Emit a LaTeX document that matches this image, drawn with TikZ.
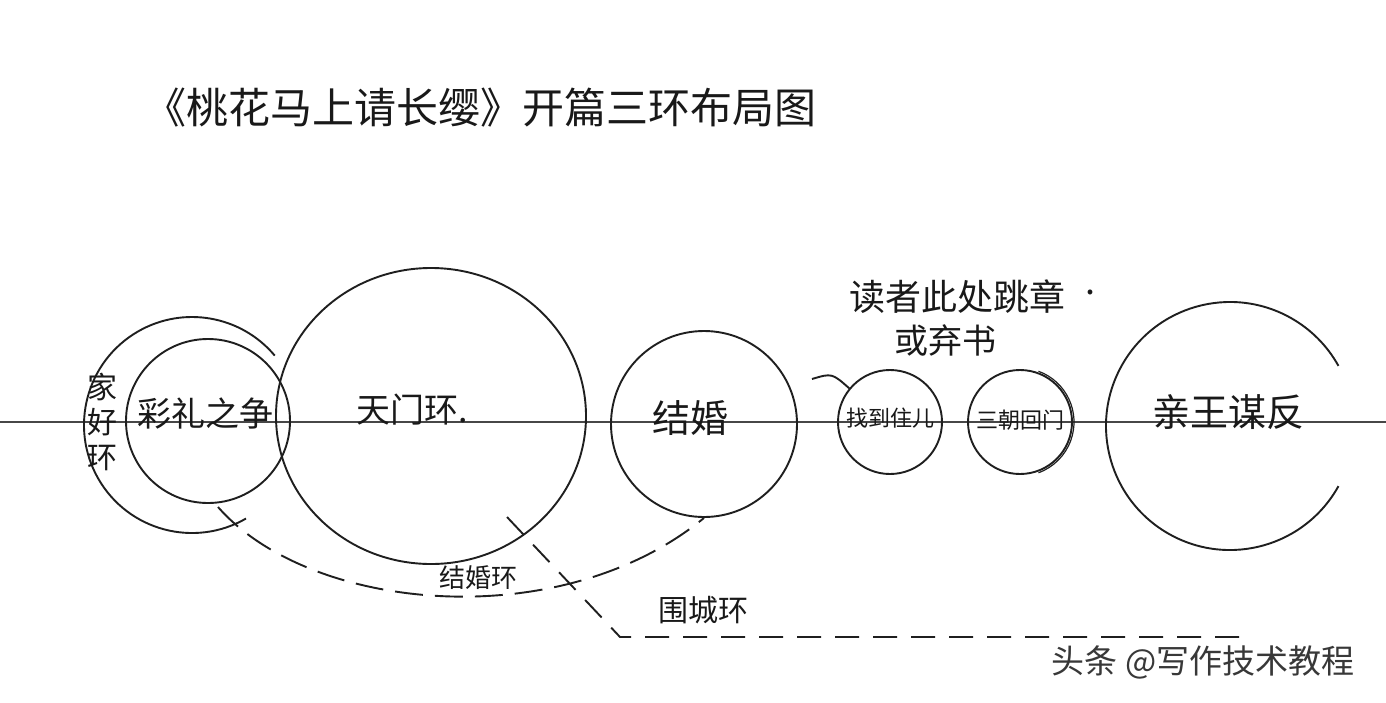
\documentclass[tikz,border=0pt]{standalone}
\usepackage{fontspec}
\newfontfamily\cjk{Noto Sans CJK SC}
\usetikzlibrary{shapes.geometric}
\tikzset{
  ink/.style={draw=black!88, line width=1.9pt},
  ring/.style={ink, circle, inner sep=0pt},
  axisline/.style={draw=black!72, line width=1.3pt},
  dashink/.style={ink, dash pattern=on 28pt off 12pt},
  dashflat/.style={ink, dash pattern=on 24pt off 14pt},
  hand/.style={font=\cjk\fontsize{#1}{#1}\selectfont, text=black!90, inner sep=0pt},
}
\begin{document}
\begin{tikzpicture}[x=1pt,y=-1pt]
\useasboundingbox[fill=white] (0,0) rectangle (1386,702);

% axis line
\coordinate (axL) at (0,422);
\coordinate (axR) at (1386,422);
\draw[axisline] (axL) -- (axR);

% title
\node[hand=42] (title) at (480,108) {《桃花马上请长缨》开篇三环布局图};

% left rings
\coordinate (outerC) at (192,425);
\draw[ink] (outerC) ++(60:108) arc[start angle=60, end angle=320, radius=108];
\node[ring, minimum size=164pt] (caili) at (208,421) {};
\node[hand=34] (cailiT) at (205,413) {彩礼之争};
\node[hand=30, align=center] (jiahao) at (102,422) {家\\[5pt]好\\[5pt]环};

% tianmen ring
\node[ink, ellipse, inner sep=0pt, minimum width=310pt, minimum height=296pt] (tianmen) at (431,416) {};
\node[hand=34] (tianmenT) at (412,410) {天门环.};

% jiehun ring
\node[ring, minimum size=186pt] (jiehun) at (704,424) {};
\node[hand=38] (jiehunT) at (690,418) {结婚};

% small rings
\node[ring, minimum size=104pt] (zhaodao) at (890,422) {};
\node[hand=22] (zhaodaoT) at (890,418) {找到住儿};
\node[ring, minimum size=104pt] (huimen) at (1020,422) {};
\draw[ink, line width=1.2pt] (huimen.center) ++(-70:54) arc[start angle=-70, end angle=70, radius=54];
\node[hand=22] (huimenT) at (1020,420) {三朝回门};

% reader note
\node[hand=36] (note1) at (957,297) {读者此处跳章};
\node[hand=36] (dot) at (1090,292) {.};
\node[hand=34] (note2) at (945,340) {或弃书};
\coordinate (sa) at (812,379);
\coordinate (sb) at (850,389);
\draw[ink] (sa) .. controls (832,373) .. (sb);

% qinwang ring (open on right)
\coordinate (qwC) at (1230,426);
\draw[ink] (qwC) ++(29:124) arc[start angle=29, end angle=331, radius=124];
\node[hand=38] (qinwangT) at (1228,412) {亲王谋反};

% jiehun huan dashed arc
\coordinate (jhStart) at (218,507);
\draw[dashink] (jhStart) .. controls (310,612) and (560,636) .. (jiehun.south);
\node[hand=26] (jhLabel) at (478,578) {结婚环};

% weicheng huan dashed line
\coordinate (wcStart) at (507,517);
\coordinate (wcBend) at (620,637);
\coordinate (wcEnd) at (1250,637);
\draw[dashflat] (wcStart) -- (wcBend) -- (wcEnd);
\node[hand=30] (wcLabel) at (703,610) {围城环};

% watermark
\node[font=\cjk\fontsize{33}{33}\selectfont, text=black!78, inner sep=0pt] (wm) at (1203,662) {头条 @写作技术教程};
\end{tikzpicture}
\end{document}
